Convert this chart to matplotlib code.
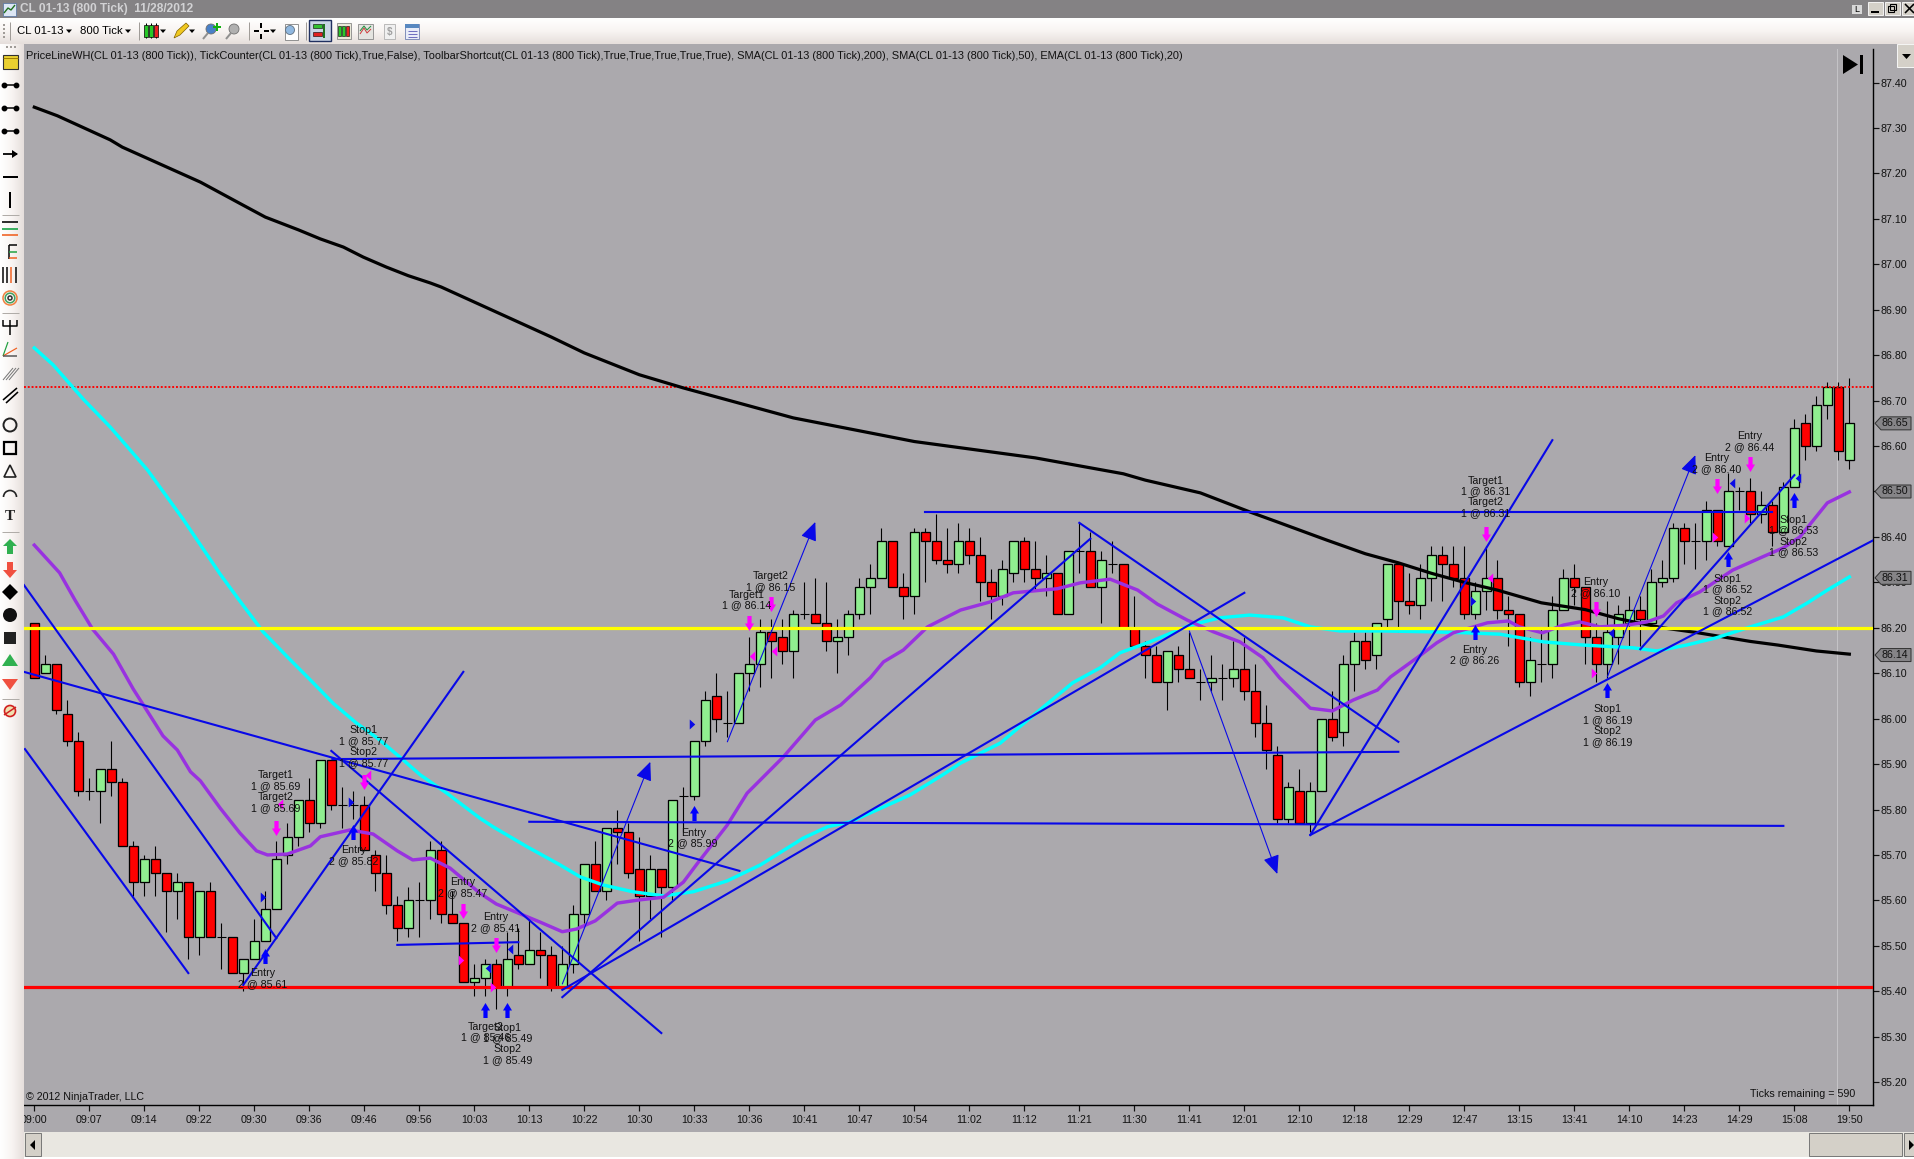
import numpy as np
import matplotlib
matplotlib.use('Agg')
import matplotlib.pyplot as plt
from matplotlib.path import Path
from matplotlib.patches import Rectangle, Polygon, Circle, Arc

plt.rcParams['font.family'] = ['Liberation Sans', 'DejaVu Sans']
plt.rcParams['font.size'] = 7.7

# Candles, one value per bar
opens = [86.21,86.10,86.12,86.01,85.95,85.84,85.84,85.89,85.86,85.72,85.64,85.69,85.66,85.62,85.64,85.52,85.62,85.52,85.52,85.44,
         85.47,85.51,85.58,85.70,85.74,85.82,85.77,85.91,85.81,85.81,85.81,85.70,85.66,85.59,85.54,85.60,85.60,85.71,85.57,85.55,
         85.42,85.43,85.46,85.41,85.48,85.46,85.49,85.48,85.41,85.46,85.57,85.68,85.62,85.76,85.75,85.67,85.61,85.67,85.63,85.83,
         85.83,85.95,86.05,85.99,85.99,86.10,86.12,86.19,86.18,86.15,86.23,86.23,86.21,86.17,86.18,86.23,86.29,86.31,86.39,86.29,
         86.27,86.41,86.39,86.35,86.34,86.39,86.36,86.30,86.27,86.32,86.39,86.33,86.31,86.32,86.23,86.37,86.37,86.29,86.34,86.34,
         86.20,86.16,86.14,86.08,86.14,86.11,86.08,86.08,86.09,86.09,86.11,86.06,85.99,85.92,85.78,85.84,85.77,85.84,86.00,85.97,
         86.12,86.17,86.14,86.22,86.34,86.26,86.25,86.31,86.36,86.34,86.31,86.23,86.28,86.31,86.24,86.23,86.08,86.12,86.12,86.24,
         86.31,86.29,86.18,86.12,86.18,86.21,86.24,86.21,86.30,86.31,86.42,86.39,86.39,86.46,86.38,86.50,86.50,86.45,86.47,86.41,
         86.51,86.65,86.60,86.69,86.73,86.57]
closes = [86.09,86.12,86.02,85.95,85.84,85.84,85.89,85.86,85.72,85.64,85.69,85.66,85.62,85.64,85.52,85.62,85.52,85.52,85.44,85.47,
          85.51,85.58,85.69,85.74,85.82,85.77,85.91,85.81,85.81,85.81,85.71,85.66,85.59,85.54,85.60,85.60,85.71,85.57,85.55,85.42,
          85.43,85.46,85.41,85.47,85.46,85.49,85.48,85.41,85.46,85.57,85.68,85.62,85.76,85.75,85.66,85.61,85.67,85.63,85.82,85.83,
          85.95,86.04,86.00,85.99,86.10,86.12,86.19,86.17,86.15,86.23,86.23,86.21,86.17,86.18,86.23,86.29,86.31,86.39,86.29,86.27,
          86.41,86.39,86.35,86.34,86.39,86.36,86.30,86.27,86.33,86.39,86.33,86.31,86.32,86.23,86.37,86.37,86.29,86.35,86.34,86.20,
          86.16,86.14,86.08,86.15,86.11,86.09,86.08,86.09,86.09,86.11,86.06,85.99,85.93,85.78,85.85,85.77,85.84,86.00,85.96,86.12,
          86.17,86.13,86.21,86.34,86.26,86.25,86.31,86.36,86.34,86.31,86.23,86.28,86.31,86.24,86.23,86.08,86.13,86.12,86.24,86.31,
          86.29,86.18,86.12,86.19,86.23,86.24,86.22,86.30,86.31,86.42,86.39,86.39,86.46,86.39,86.50,86.50,86.45,86.47,86.41,86.51,
          86.64,86.60,86.69,86.73,86.59,86.65]
highs = [86.21,86.14,86.12,86.04,85.97,85.87,85.89,85.95,85.87,85.73,85.70,85.72,85.66,85.66,85.64,85.62,85.64,85.55,85.52,85.47,
         85.56,85.62,85.73,85.77,85.82,85.87,85.91,85.91,85.85,85.84,85.83,85.71,85.70,85.61,85.63,85.64,85.73,85.73,85.62,85.55,
         85.46,85.47,85.47,85.53,85.54,85.56,85.53,85.50,85.50,85.59,85.68,85.73,85.76,85.80,85.77,85.74,85.70,85.67,85.82,85.85,
         85.95,86.06,86.10,86.06,86.10,86.18,86.22,86.22,86.22,86.24,86.30,86.31,86.30,86.22,86.24,86.31,86.34,86.42,86.39,86.32,
         86.42,86.42,86.45,86.42,86.43,86.42,86.40,86.33,86.35,86.39,86.40,86.39,86.36,86.32,86.37,86.43,86.41,86.37,86.39,86.34,
         86.27,86.17,86.16,86.15,86.16,86.19,86.11,86.14,86.12,86.17,86.18,86.12,86.03,85.94,85.86,85.89,85.86,86.00,86.06,86.14,
         86.19,86.19,86.21,86.34,86.34,86.32,86.34,86.38,86.38,86.38,86.38,86.30,86.38,86.35,86.27,86.23,86.18,86.20,86.27,86.33,
         86.34,86.29,86.21,86.26,86.25,86.27,86.27,86.33,86.35,86.43,86.43,86.43,86.48,86.46,86.54,86.51,86.53,86.50,86.48,86.52,
         86.66,86.67,86.71,86.74,86.74,86.75]
lows = [86.09,86.10,86.01,85.94,85.83,85.82,85.77,85.83,85.72,85.61,85.61,85.61,85.53,85.56,85.47,85.48,85.52,85.45,85.44,85.40,
        85.47,85.51,85.58,85.68,85.72,85.75,85.76,85.80,85.76,85.78,85.71,85.62,85.57,85.51,85.52,85.52,85.56,85.55,85.55,85.42,
        85.39,85.39,85.36,85.39,85.45,85.46,85.43,85.40,85.41,85.44,85.55,85.62,85.60,85.68,85.65,85.51,85.56,85.52,85.60,85.75,
        85.82,85.94,85.97,85.96,85.99,86.06,86.07,86.09,86.12,86.09,86.22,86.21,86.15,86.10,86.14,86.22,86.23,86.31,86.29,86.22,
        86.23,86.30,86.34,86.32,86.32,86.34,86.26,86.22,86.25,86.30,86.30,86.28,86.27,86.23,86.23,86.32,86.29,86.21,86.32,86.20,
        86.16,86.09,86.08,86.02,86.08,86.09,86.04,86.06,86.04,86.07,86.04,85.96,85.89,85.77,85.77,85.77,85.75,85.84,85.95,85.94,
        86.06,86.11,86.11,86.20,86.19,86.23,86.22,86.26,86.26,86.29,86.22,86.22,86.24,86.22,86.16,86.07,86.05,86.08,86.09,86.24,
        86.25,86.12,86.08,86.09,86.12,86.16,86.16,86.21,86.29,86.30,86.34,86.33,86.35,86.38,86.38,86.46,86.43,86.43,86.38,86.41,
        86.51,86.57,86.59,86.66,86.57,86.55]

# Moving averages, read at the bars where they bend
sma200_bars = [0,2.1,6.9,8,15.1,19,21,24,26,28.1,29.9,32,34,36,37,40,45,47,50,55,59,69,80,91,99,101,106,110.5,113,117.5,121,124,127,130,133,137,141,144,148,151,156,158.5,162,165]
sma200_vals = [87.346,87.327,87.274,87.258,87.181,87.13,87.104,87.076,87.056,87.038,87.016,86.994,86.975,86.959,86.950,86.917,86.862,86.84,86.805,86.757,86.728,86.662,86.61,86.574,
               86.539,86.525,86.497,86.455,86.433,86.393,86.363,86.343,86.32,86.30,86.283,86.255,86.24,86.22,86.20,86.19,86.17,86.162,86.149,86.142]
sma50_bars = [0,1.7,4.5,6.9,10.3,13.5,16.9,18.5,20.8,23,25.1,27.2,29.3,31.2,33.2,35.1,37.5,40.5,41.7,44.8,47.8,49.6,51.7,54.4,57.2,59.9,63,66,69.9,72.1,74.2,76.6,79.6,
              82.3,84.2,87.8,91.4,94.4,96.9,98.7,101.4,105.1,107.8,110.5,113.5,116,118.7,122.6,127.2,130.2,133.2,137.2,140.8,145.3,147.5,150.2,152.9,156,159,161.2,163,165]
sma50_vals = [86.816,86.779,86.702,86.642,86.547,86.44,86.318,86.265,86.191,86.136,86.085,86.033,85.99,85.957,85.916,85.876,85.836,85.781,85.762,85.718,85.678,85.652,85.634,85.619,85.61,85.619,85.643,85.678,85.737,85.762,85.773,85.799,85.832,
              85.872,85.902,85.946,86.019,86.079,86.112,86.145,86.169,86.206,86.222,86.228,86.222,86.202,86.193,86.193,86.191,86.189,86.186,86.169,86.162,86.156,86.149,86.162,86.178,86.202,86.224,86.255,86.283,86.312]
ema20_bars = [0,2.3,3.7,5.3,7.2,9,11.7,13,14.2,15.1,16.9,18.7,20.2,21.2,23,25.1,26,28.7,30.8,33,34.4,36,37.8,40.5,42,46,48,49.3,51,53,55,57.2,59,60.3,63,64.8,66,68.1,71,73.3,76,77.2,79,81.2,84.2,86.9,89,93,95.1,97.8,
              100.3,102.1,104.8,107.2,109.6,111.7,113.2,116,118,119.9,122.1,123.3,125.7,127.5,129,132.1,134,135,137.1,139,140.5,142.3,144.8,146.6,148.1,149.3,151.4,154.4,157.1,159,160.5,163,165]
ema20_vals = [86.382,86.321,86.261,86.197,86.142,86.065,85.962,85.931,85.883,85.863,85.803,85.748,85.709,85.70,85.702,85.72,85.74,85.755,85.746,85.709,85.689,85.693,85.671,85.616,85.592,85.552,85.531,85.537,85.555,85.594,85.601,85.607,85.64,85.682,85.766,85.836,85.865,85.916,85.997,86.03,86.09,86.125,86.151,86.202,86.239,86.257,86.277,86.286,86.299,86.307,
              86.283,86.252,86.217,86.191,86.169,86.134,86.09,86.023,86.017,86.041,86.063,86.092,86.134,86.167,86.189,86.211,86.215,86.202,86.189,86.206,86.213,86.202,86.206,86.213,86.226,86.255,86.279,86.327,86.356,86.376,86.40,86.475,86.499]

# Levels
yellow_level = 86.20
red_level = 85.41
dotted_level = 86.73

# Hand drawn lines: bar1, price1, bar2, price2
drawn_lines = [(-0.85,85.933,14,85.44),(-0.94,86.294,22,85.517),(-0.94,86.103,64.1,85.665),(19,85.414,39,86.103),
               (27.1,85.911,124,85.927),(27,85.929,57,85.308),(33,85.502,44,85.508),(45,85.773,159,85.764),
               (48,85.387,96,86.396),(48,85.403,110,86.277),(95,86.431,124,85.949),(81,86.455,158,86.455),
               (116,85.744,138,86.613),(116,85.744,167.2,86.393),(146,86.153,160,86.536)]
drawn_arrows = [(48,85.416,56,85.905),(63,85.949,71,86.433),(105,86.193,113,85.658),(143,86.092,151,86.58)]

# Trade arrows: bar and price at the tip
sell_bars = [22,30,39,42,65,67,132,142,153,156]
sell_tips = [85.742,85.843,85.561,85.486,86.195,86.235,86.391,86.224,86.495,86.543]
buy_bars = [21,29,41,43,60,131,143,154,160]
buy_tips = [85.495,85.766,85.376,85.376,85.808,86.208,86.079,86.367,86.497]

# Small execution triangles
blue_right_bars = [20.8,28.8,59.8,130.8]
blue_right_vals = [85.608,85.817,85.988,86.259]
blue_left_bars = [41.2,43.2,143.3,154.3,160.3]
blue_left_vals = [85.451,85.493,86.189,86.519,86.53]
pink_left_bars = [22.3,30.3,65.2,67.2,132.3]
pink_left_vals = [85.812,85.876,86.138,86.149,86.31]
pink_right_bars = [38.8,41.7,141.8,152.8,155.7]
pink_right_vals = [85.469,85.409,86.101,86.40,86.442]

# Order labels: text, bar, price
order_labels = [('Entry\n2 @ 85.61',20.8,85.427),('Target1\n1 @ 85.69\nTarget2\n1 @ 85.69',21.9,85.839),
                ('Stop1\n1 @ 85.77\nStop2\n1 @ 85.77',29.9,85.938),('Entry\n2 @ 85.82',29,85.698),
                ('Entry\n2 @ 85.47',38.9,85.629),('Entry\n2 @ 85.41',41.9,85.552),
                ('Target2\n1 @ 85.46',41,85.31),('Stop1\n1 @ 85.49\nStop2\n1 @ 85.49',43,85.284),
                ('Entry\n2 @ 85.99',59.9,85.737),('Target1\n1 @ 86.14',64.8,86.261),('Target2\n1 @ 86.15',66.9,86.301),
                ('Target1\n1 @ 86.31\nTarget2\n1 @ 86.31',131.9,86.488),('Entry\n2 @ 86.26',130.9,86.14),
                ('Entry\n2 @ 86.10',141.9,86.288),('Stop1\n1 @ 86.19\nStop2\n1 @ 86.19',143,85.984),
                ('Stop1\n1 @ 86.52\nStop2\n1 @ 86.52',153.9,86.272),('Stop1\n1 @ 86.53\nStop2\n1 @ 86.53',159.9,86.402),
                ('Entry\n2 @ 86.40',152.9,86.561),('Entry\n2 @ 86.44',155.9,86.609)]

# Axis labels
time_labels = ['09:00','09:07','09:14','09:22','09:30','09:36','09:46','09:56','10:03','10:13','10:22','10:30','10:33','10:36','10:41','10:47','10:54',
               '11:02','11:12','11:21','11:30','11:41','12:01','12:10','12:18','12:29','12:47','13:15','13:41','14:10','14:23','14:29','15:08','19:50']
price_ticks = [85.2,85.3,85.4,85.5,85.6,85.7,85.8,85.9,86.0,86.1,86.2,86.3,86.4,86.5,86.6,86.7,86.8,86.9,87.0,87.1,87.2,87.3,87.4]
pointer_prices = [86.65,86.50,86.31,86.14]

header = ('PriceLineWH(CL 01-13 (800 Tick)), TickCounter(CL 01-13 (800 Tick),True,False), '
          'ToolbarShortcut(CL 01-13 (800 Tick),True,True,True,True,True), SMA(CL 01-13 (800 Tick),200), '
          'SMA(CL 01-13 (800 Tick),50), EMA(CL 01-13 (800 Tick),20)')

W, H = 1915, 1159
BG = '#ABA9AD'
px = 0.72  # one pixel in points at 100 dpi

fig = plt.figure(figsize=(W / 100, H / 100), dpi=100, facecolor=BG)
ax = fig.add_axes([24 / W, 1 - 1105 / H, 1849 / W, 1056 / H], zorder=1)
ax.set_facecolor(BG)
ax.set_xlim(-0.936, 167.15)
ax.set_ylim(85.1496, 87.474)
for s in ['left', 'top']:
    ax.spines[s].set_visible(False)
ax.spines['right'].set_linewidth(1.4 * px)
ax.spines['bottom'].set_linewidth(1.4 * px)

bars = np.arange(len(opens))
opens = np.array(opens)
closes = np.array(closes)
highs = np.array(highs)
lows = np.array(lows)

# thin light line over the last bars
ax.axvline(163.9, color='#C4C3C6', lw=px, zorder=1.2)

# Candles
ax.vlines(bars, lows, highs, color='black', lw=px * 1.1, zorder=2)
up = closes > opens
down = closes < opens
flat = closes == opens
ax.bar(bars[up], (closes - opens)[up], bottom=opens[up], width=0.78, color='#90EE90', edgecolor='black', lw=px * 1.3, zorder=3)
ax.bar(bars[down], (opens - closes)[down], bottom=closes[down], width=0.78, color='#FF0000', edgecolor='black', lw=px * 1.3, zorder=3)
ax.hlines(opens[flat], bars[flat] - 0.39, bars[flat] + 0.39, color='black', lw=px * 1.1, zorder=3)

# Levels
ax.axhline(dotted_level, color='#FF0000', lw=1.9 * px, ls=(0, (1, 1)), zorder=4)
ax.axhline(yellow_level, color='#FFFF00', lw=3.2 * px, zorder=6)
ax.axhline(red_level, color='#FF0000', lw=3.2 * px, zorder=6)

# Moving averages
ax.plot(sma200_bars, sma200_vals, color='black', lw=3.2 * px, zorder=5, solid_joinstyle='round')
ax.plot(sma50_bars, sma50_vals, color='#00FFFF', lw=3.4 * px, zorder=5, solid_joinstyle='round')
ax.plot(ema20_bars, ema20_vals, color='#9932E0', lw=3.4 * px, zorder=5, solid_joinstyle='round')

# Drawn lines and arrows
for x1, y1, x2, y2 in drawn_lines:
    ax.plot([x1, x2], [y1, y2], color='#0808E8', lw=2.1 * px, zorder=7)
for x1, y1, x2, y2 in drawn_arrows:
    ax.annotate('', xy=(x2, y2), xytext=(x1, y1), zorder=7,
                arrowprops=dict(arrowstyle='-|>,head_length=1.15,head_width=0.5', mutation_scale=10,
                                color='#0808E8', lw=1.1 * px, shrinkA=0, shrinkB=0))

# Fat trade arrows, drawn from their tip
down_arrow = Path([(-0.28, 1), (0.28, 1), (0.28, 0), (0.6, 0), (0, -1), (-0.6, 0), (-0.28, 0), (-0.28, 1)], closed=True)
up_arrow = Path([(-0.28, -1), (0.28, -1), (0.28, 0), (0.6, 0), (0, 1), (-0.6, 0), (-0.28, 0), (-0.28, -1)], closed=True)
arrow_half = 7.5 / 454.3
ax.plot(sell_bars, np.array(sell_tips) + arrow_half, ls='none', marker=down_arrow, ms=15 * px, color='#FF00FF', mew=0, zorder=8)
ax.plot(buy_bars, np.array(buy_tips) - arrow_half, ls='none', marker=up_arrow, ms=15 * px, color='#0000FF', mew=0, zorder=8)

right_tri = Path([(-0.55, -1), (0.55, 0), (-0.55, 1), (-0.55, -1)], closed=True)
left_tri = Path([(0.55, -1), (-0.55, 0), (0.55, 1), (0.55, -1)], closed=True)
ax.plot(blue_right_bars, blue_right_vals, ls='none', marker=right_tri, ms=10 * px, color='#0A0AE6', mew=0, zorder=8)
ax.plot(blue_left_bars, blue_left_vals, ls='none', marker=left_tri, ms=10 * px, color='#0A0AE6', mew=0, zorder=8)
ax.plot(pink_left_bars, pink_left_vals, ls='none', marker=left_tri, ms=10 * px, color='#FF00FF', mew=0, zorder=8)
ax.plot(pink_right_bars, pink_right_vals, ls='none', marker=right_tri, ms=10 * px, color='#FF00FF', mew=0, zorder=8)

# Order labels
for label, bar, price in order_labels:
    ax.text(bar, price, label, ha='center', va='center', linespacing=1.12, color='#111111', zorder=9, clip_on=True)

# Axes ticks
ax.set_xticks(np.arange(0, len(opens), 5))
ax.set_xticklabels(time_labels)
ax.set_yticks(price_ticks)
ax.set_yticklabels(['%.2f' % p for p in price_ticks])
ax.yaxis.tick_right()
ax.tick_params(axis='x', length=6 * px, width=1.2 * px, pad=3, labelsize=7.7, colors='#111111')
ax.tick_params(axis='y', length=6 * px, width=1.2 * px, pad=1, labelsize=7.7, colors='#111111')

# Price pointers on the scale
trans = ax.get_yaxis_transform()
box_x = lambda pixel: 1 + (pixel - 1873) / 1849
box_half = 6.5 / 454.3
for price in pointer_prices:
    ax.add_patch(Polygon([(box_x(1875), price), (box_x(1881), price + box_half), (box_x(1911), price + box_half),
                          (box_x(1911), price - box_half), (box_x(1881), price - box_half)],
                         closed=True, transform=trans, clip_on=False, facecolor='#858487', edgecolor='#333333', lw=px, zorder=9))
    ax.text(box_x(1882), price, '%.2f' % price, transform=trans, clip_on=False, va='center', ha='left', color='#111111', zorder=10)

# Texts in the chart
ax.text(2 / 1849, 3 / 1056, '\u00a9 2012 NinjaTrader, LLC', transform=ax.transAxes, va='bottom', ha='left', color='#111111')
ax.text(1 - 18 / 1849, 6 / 1056, 'Ticks remaining = 590', transform=ax.transAxes, va='bottom', ha='right', color='#111111')
ax.text(2 / 1849, 1 - 7 / 1056, header, transform=ax.transAxes, va='center', ha='left', color='#111111', fontsize=7.92)

# Window chrome in pixel coordinates, above the chart
ch = fig.add_axes([0, 0, 1, 1], zorder=10)
ch.set_xlim(0, W)
ch.set_ylim(H, 0)
ch.axis('off')
ch.patch.set_alpha(0)

def rect(x, y, w, h, fc, ec='none', lw=0.0, z=2):
    ch.add_patch(Rectangle((x, y), w, h, facecolor=fc, edgecolor=ec, lw=lw, zorder=z))

def line(xs, ys, c='black', lw=1.0, z=3):
    ch.plot(xs, ys, color=c, lw=lw * px, zorder=z, solid_capstyle='butt')

def poly(pts, fc, ec='none', lw=0.0, z=3):
    ch.add_patch(Polygon(pts, closed=True, facecolor=fc, edgecolor=ec, lw=lw, zorder=z))

def tri_down(x, y, c='black', s=3):
    poly([(x - s, y - 1.5), (x + s, y - 1.5), (x, y + 2)], c)

# Bars of the window
grad_h = np.linspace(0, 1, 32).reshape(-1, 1)
grad_v = np.linspace(0, 1, 32).reshape(1, -1)
cmap = matplotlib.colors.LinearSegmentedColormap.from_list('tb', ['#FFFFFF', '#F8F4F2', '#E6DFDC'])
rect(0, 0, W, 18, '#848284')
ch.imshow(grad_h, extent=(0, W, 44, 18), cmap=cmap, aspect='auto', zorder=1)
ch.imshow(grad_v, extent=(0, 24, H, 44), cmap=cmap, aspect='auto', zorder=1)
ch.set_xlim(0, W)
ch.set_ylim(H, 0)

# Bottom scrollbar
rect(24, 1132, W - 24, 25, '#E9E7E1')
rect(24, 1157, W - 24, 2, '#FFFFFF')
rect(25, 1133, 16, 23, '#D4D0C8', ec='#777777', lw=0.7)
poly([(35, 1140), (35, 1150), (30, 1145)], 'black')
rect(1809, 1133, 93, 23, '#D4D0C8', ec='#777777', lw=0.7)
rect(1904, 1133, 11, 23, '#D4D0C8', ec='#777777', lw=0.7)
poly([(1909, 1140), (1909, 1150), (1914, 1145)], 'black')

# Title bar
ch.text(20, 9, 'CL 01-13 (800 Tick)  11/28/2012', color='#D2D2D4', fontsize=8.6, fontweight='bold', va='center', ha='left')
rect(3, 3, 13, 13, '#DCE6F4', ec='#5070A0', lw=0.5)
line([4, 8, 11, 15], [13, 8, 10, 5], c='#207020', lw=1.4)
rect(1852, 5, 10, 9, '#D8D8D8')
ch.text(1857, 10, 'L', fontsize=6.5, ha='center', va='center', color='black')
for bx in [1868, 1885, 1902]:
    rect(bx, 2, 15, 13, '#D4D0C8', ec='#FFFFFF', lw=0.6)
line([1871, 1879], [12, 12], lw=2)
rect(1888, 6, 6, 6, 'none', ec='black', lw=0.8, z=4)
rect(1890, 4, 6, 6, '#D4D0C8', ec='black', lw=0.8, z=3)
line([1905, 1914], [4, 13], lw=1.6)
line([1905, 1914], [13, 4], lw=1.6)

# Top toolbar
for gy in [24, 28, 32, 36]:
    rect(3, gy, 2, 2, '#A09C98')
for gx in [6, 10, 14]:
    rect(gx, 46, 2, 2, '#A09C98')
for sx in [10, 139, 249, 306]:
    line([sx, sx], [22, 40], c='#A09C98', lw=1)
ch.text(17, 31, 'CL 01-13', color='black', fontsize=8.2, va='center')
ch.text(80, 31, '800 Tick', color='black', fontsize=8.2, va='center')
for tx in [69, 128, 163, 192, 273]:
    tri_down(tx, 31)
for cx, c in [(146, '#28C828'), (151, '#28C828'), (156, '#E82020')]:
    line([cx, cx], [23, 38])
    rect(cx - 2, 25, 4, 12, c, ec='black', lw=0.5, z=4)
poly([(174, 38), (177, 31), (186, 23), (189, 26), (180, 35)], '#F0C820', ec='#806000', lw=0.5)
for zx, c in [(208, '#4880C8'), (231, '#B0B0B0')]:
    ch.add_patch(Circle((zx + 3, 29), 5, fc=c, ec='#707070', lw=0.6, zorder=3))
    line([zx + 0, zx - 5], [33, 39], c='#909090', lw=2)
line([213, 221], [27, 27], c='#10B010', lw=2)
line([217, 217], [23, 31], c='#10B010', lw=2)
line([254, 259], [31, 31], lw=2)
line([264, 269], [31, 31], lw=2)
line([261.5, 261.5], [23, 28], lw=2)
line([261.5, 261.5], [34, 39], lw=2)
rect(285, 24, 13, 16, '#FFFFFF', ec='#808080', lw=0.6)
ch.add_patch(Circle((290, 30), 4.5, fc='#90B8E0', ec='#607080', lw=0.6, zorder=4))
rect(309, 20, 22, 21, '#C8D4E4', ec='#203060', lw=1)
rect(313, 24, 9, 4, '#30C030', ec='black', lw=0.4, z=4)
rect(313, 32, 9, 4, '#E02020', ec='black', lw=0.4, z=4)
line([324, 324], [24, 38], c='#207020', lw=2)
rect(337, 23, 14, 16, '#E8E8D8', ec='#888888', lw=0.6)
for cx, c in [(340, '#28C828'), (344, '#28C828'), (348, '#E82020')]:
    rect(cx - 1.5, 26, 3, 10, c, ec='black', lw=0.4, z=4)
rect(358, 24, 15, 15, '#E4E4E0', ec='#888888', lw=0.6)
line([360, 364, 367, 371], [34, 28, 33, 29], c='#D04040', lw=1)
line([360, 364, 367, 371], [31, 26, 30, 26], c='#209040', lw=1)
rect(384, 24, 11, 15, '#F0F0F0', ec='#B0B0B0', lw=0.6)
ch.text(389.5, 32, '$', color='#A0A0A0', fontsize=7, ha='center', va='center', fontweight='bold', zorder=4)
rect(405, 24, 14, 15, '#E8ECF8', ec='#7080B0', lw=0.6)
rect(405, 24, 14, 4, '#5888C0', z=3)
for ly in [31, 34, 37]:
    line([408, 417], [ly, ly], c='#7070C0', lw=1)

# Left toolbar, drawing tools
rect(3, 55, 15, 14, '#EAD030', ec='#303030', lw=0.8)
line([3, 18], [58, 58], c='#A08000', lw=1)
for dy in [85, 108, 131]:
    line([3, 17], [dy, dy], lw=1.5)
    ch.plot([4, 16], [dy, dy], 'o', color='black', ms=3.2, zorder=4)
line([3, 17], [154, 154], lw=1.8)
poly([(12, 150), (18, 154), (12, 158)], 'black')
line([3, 18], [177, 177], lw=2)
line([10, 10], [192, 208], lw=2)
for sy in [215, 313, 532, 699]:
    line([2, 19], [sy, sy], c='#B0ACA8', lw=1)
line([2, 18], [222, 222], lw=1.6)
line([2, 18], [229, 229], c='#10A040', lw=1.6)
line([2, 18], [235, 235], c='#F06020', lw=1.6)
line([9, 9], [245, 259], lw=1.5)
line([9, 17], [245, 245], lw=1.5)
line([9, 17], [252, 252], c='#20A040', lw=1.5)
line([9, 17], [258, 258], c='#F06020', lw=1.5)
for vx, c in [(3, 'black'), (7, 'black'), (11, '#F06020'), (16, 'black')]:
    line([vx, vx], [267, 283], c=c, lw=1.5)
for r, c in [(7, '#F08040'), (4.8, '#40A060'), (2, '#303030')]:
    ch.add_patch(Circle((10, 298), r, fc='none', ec=c, lw=1.1, zorder=3))
line([3, 3, 17, 17], [320, 326, 326, 320], lw=1.5)
line([10, 10], [320, 335], lw=1.5)
line([3, 8], [356, 342], c='#20A040', lw=1.2)
line([3, 17], [356, 348], c='#F06020', lw=1.2)
line([3, 17], [356, 356], c='#555555', lw=1.5)
for off in [0, 3, 6]:
    line([3 + off, 13 + off], [380, 368], c='#777777', lw=1)
line([3, 17], [400, 388], lw=1.6)
line([6, 18], [403, 392], lw=1.6)
ch.add_patch(Circle((10, 425), 6.5, fc='none', ec='#222222', lw=1.4, zorder=3))
rect(4, 442, 12, 12, 'none', ec='black', lw=1.6)
poly([(10, 465), (16, 477), (4, 477)], 'none', ec='#222222', lw=1.2)
ch.add_patch(Arc((10, 497), 13, 13, theta1=180, theta2=360, ec='#222222', lw=1.2, zorder=3))
ch.text(10, 517, 'T', fontsize=11, fontweight='bold', family='Liberation Serif', ha='center', va='center', color='#222222', zorder=3)
poly([(10, 539), (17, 546), (13, 546), (13, 554), (7, 554), (7, 546), (3, 546)], '#30B050')
poly([(10, 578), (17, 570), (13, 570), (13, 562), (7, 562), (7, 570), (3, 570)], '#F05040')
poly([(10, 584), (18, 592), (10, 600), (2, 592)], 'black')
ch.add_patch(Circle((10, 615), 7, fc='#111111', ec='none', zorder=3))
rect(4, 632, 12, 12, '#222222')
poly([(10, 654), (18, 666), (2, 666)], '#30B050')
poly([(2, 679), (18, 679), (10, 690)], '#F05040')
ch.add_patch(Circle((10, 711), 5.5, fc='#F0E0B0', ec='#D02020', lw=1.2, zorder=3))
line([4, 16], [715, 707], c='#D02020', lw=1.5, z=4)

# Jump to the last bar, and the button above the price scale
poly([(1843, 55), (1843, 74), (1858, 64.5)], 'black')
rect(1860, 55, 3, 19, 'black')
rect(1897, 44, 18, 23, '#D4D0C8', ec='#FFFFFF', lw=0.6)
poly([(1902, 54), (1911, 54), (1906.5, 59)], 'black')

fig.savefig('out.png', dpi=100, facecolor=BG)
